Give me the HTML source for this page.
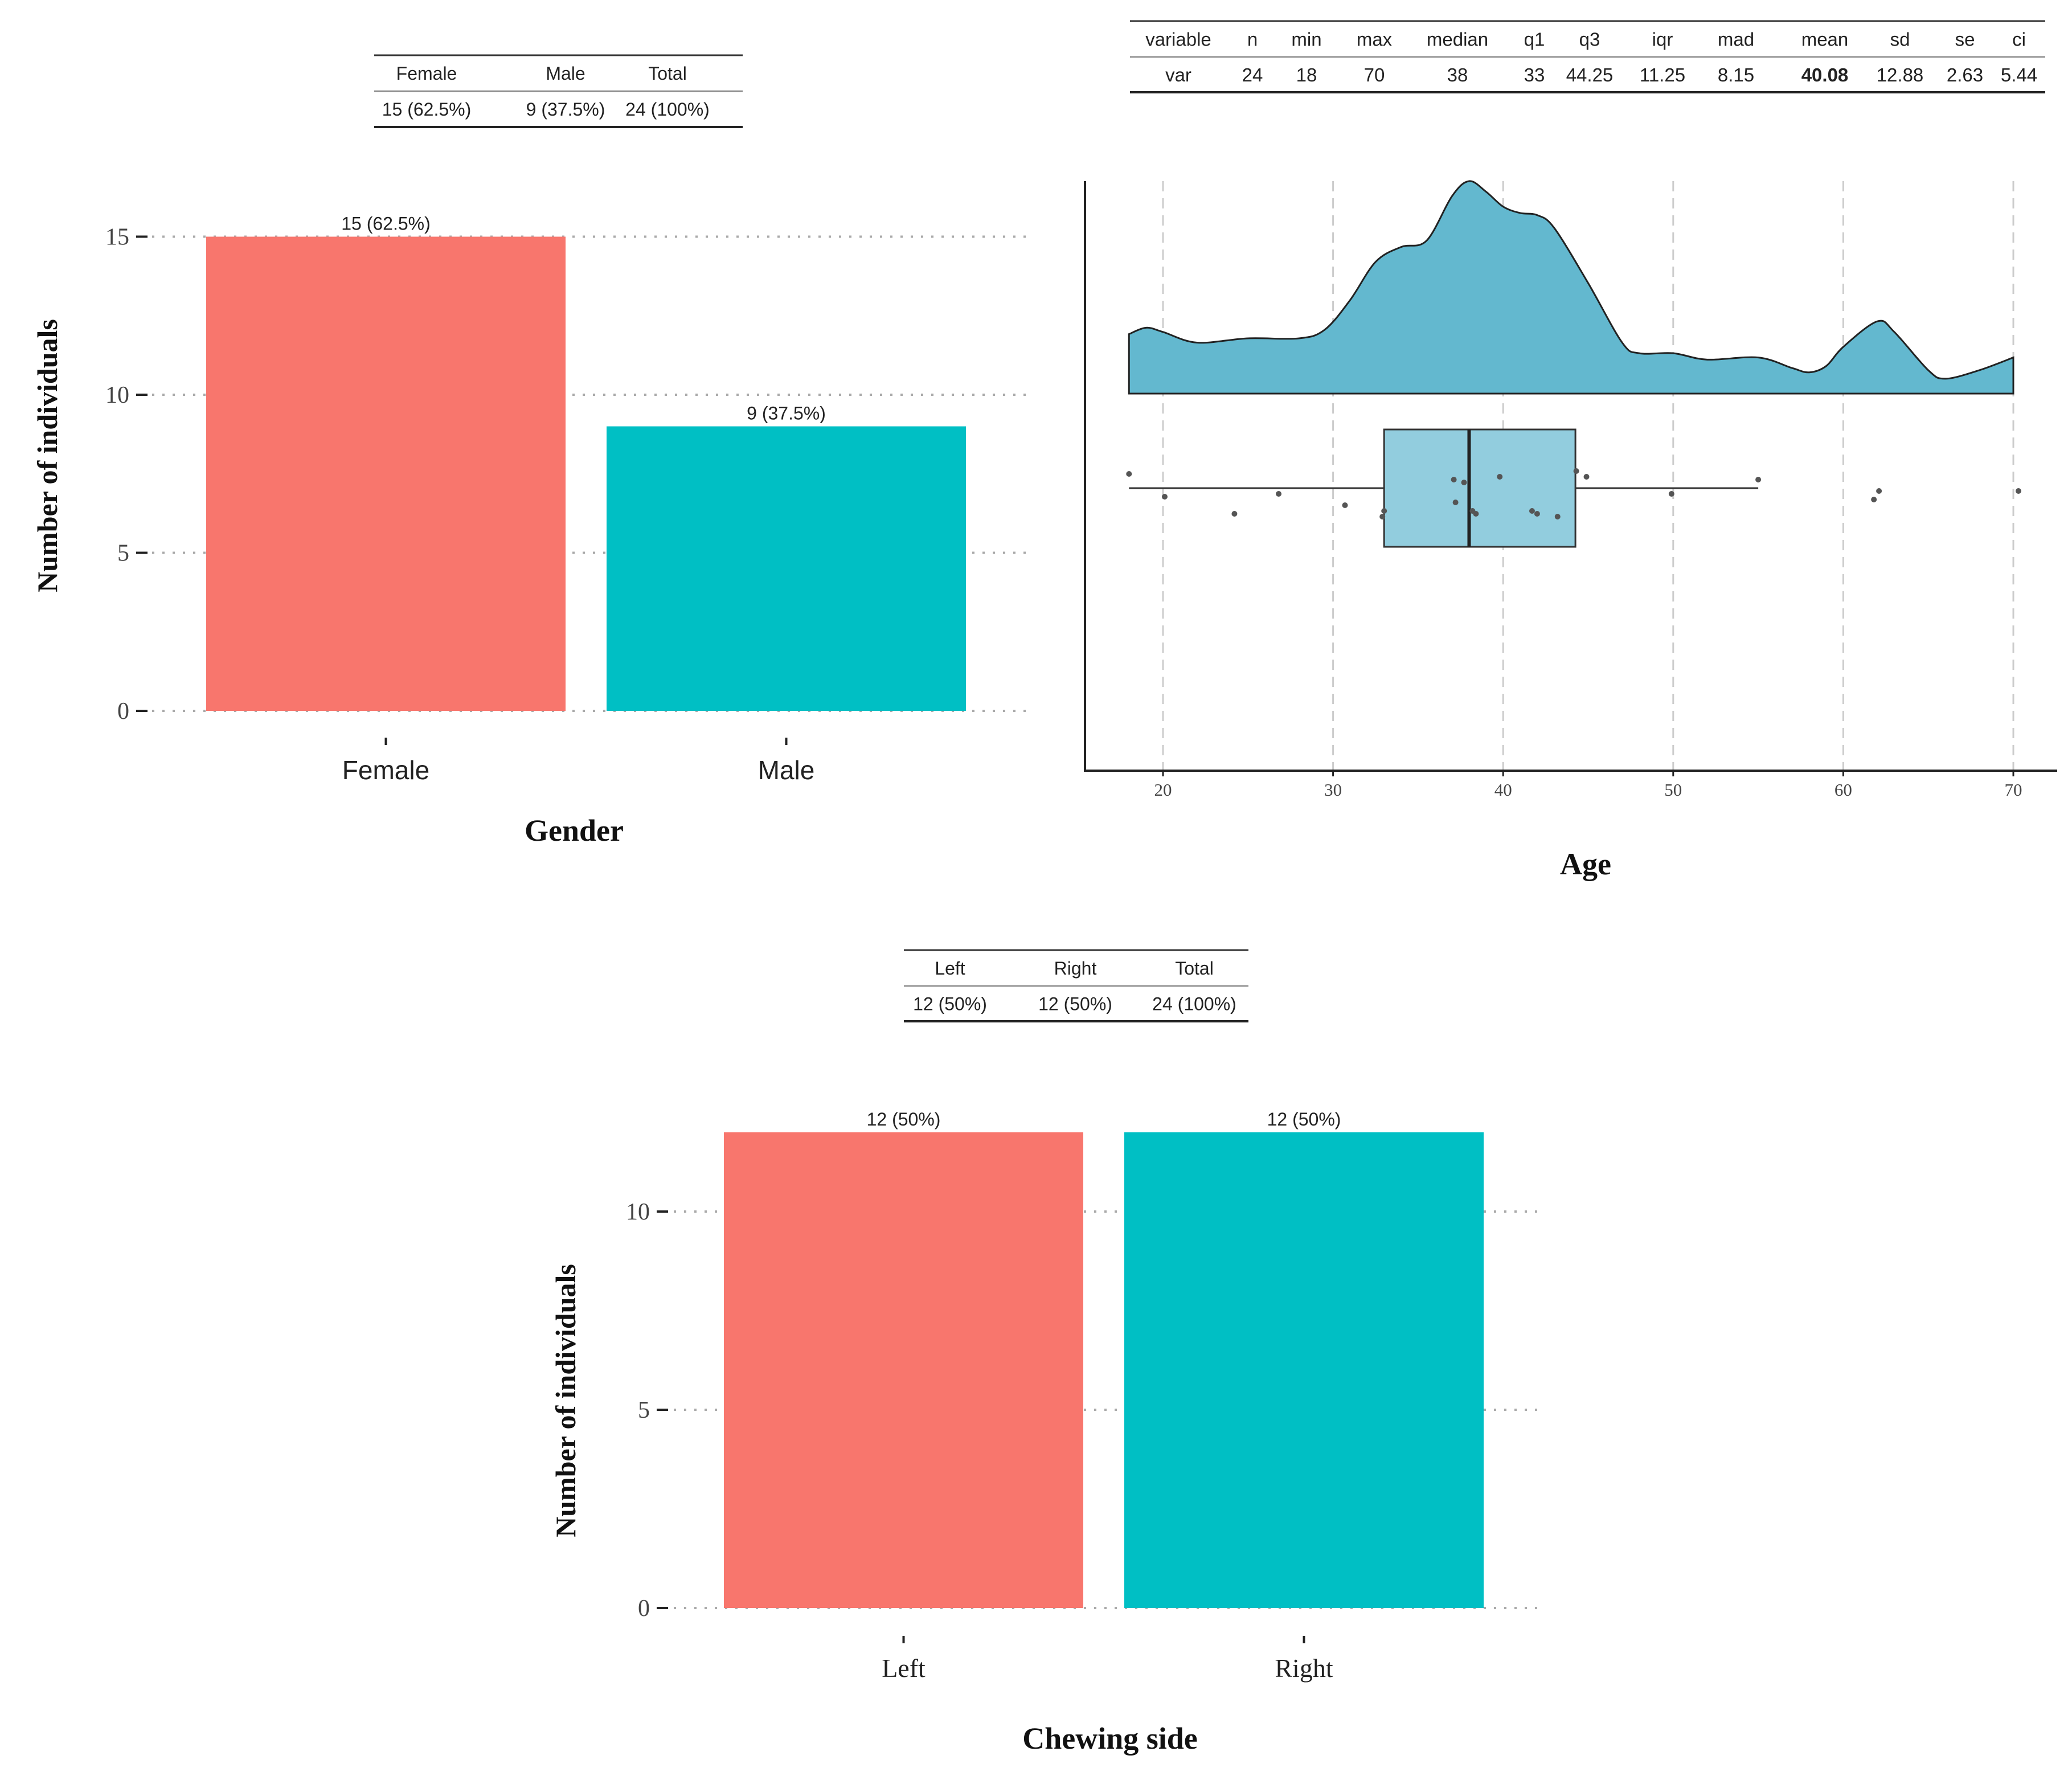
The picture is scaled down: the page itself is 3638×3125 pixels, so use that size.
<!DOCTYPE html>
<html><head><meta charset="utf-8"><style>
html,body{margin:0;padding:0;background:#fff;}
svg{display:block;}
.sans{font-family:"Liberation Sans",sans-serif;}
.serif{font-family:"Liberation Serif",serif;}
</style></head><body>
<svg id="root" width="3638" height="3125" viewBox="0 0 3638 3125" xmlns="http://www.w3.org/2000/svg"></svg>
<script>
// ---- Data ----
const genderCats = ["Female","Male"];
const genderVals = [15, 9];
const genderLabels = ["15 (62.5%)","9 (37.5%)"];
const genderTicks = [0,5,10,15];
const genderTable = [["Female","Male","Total"],["15 (62.5%)","9 (37.5%)","24 (100%)"]];

const sideCats = ["Left","Right"];
const sideVals = [12, 12];
const sideLabels = ["12 (50%)","12 (50%)"];
const sideTicks = [0,5,10];
const sideTable = [["Left","Right","Total"],["12 (50%)","12 (50%)","24 (100%)"]];

const statsHeader = ["variable","n","min","max","median","q1","q3","iqr","mad","mean","sd","se","ci"];
const statsRow = ["var","24","18","70","38","33","44.25","11.25","8.15","40.08","12.88","2.63","5.44"];

const ageTicks = [20,30,40,50,60,70];
const densAges = [18,19,20,22,25,28,29.5,31,32.5,34,35.5,37,38,39,40,41,42,43,45,47,48,50,52,55,57,58,59,60,62,63,65,66,68,70];
const densVals = [0.28,0.31,0.29,0.24,0.26,0.26,0.30,0.44,0.62,0.69,0.72,0.93,1.0,0.95,0.88,0.85,0.84,0.78,0.52,0.24,0.19,0.19,0.16,0.17,0.12,0.10,0.13,0.22,0.34,0.29,0.11,0.07,0.11,0.17];
const boxStats = [18,33,38,44.25,55]; // whiskerLow, q1, median, q3, whiskerHigh
const pointAges = [18,20.1,24.2,26.8,30.7,32.9,33,37.1,37.7,37.2,38.2,38.4,39.8,41.7,42,43.2,44.3,44.9,49.9,55,61.8,62.1,70.3];
const pointJit = [-0.5,0.3,0.9,0.2,0.6,1.0,0.8,-0.3,-0.2,0.5,0.8,0.9,-0.4,0.8,0.9,1.0,-0.6,-0.4,0.2,-0.3,0.4,0.1,0.1];

const NS="http://www.w3.org/2000/svg";
const root=document.getElementById('root');
function el(tag,attrs,parent,text){const e=document.createElementNS(NS,tag);for(const k in attrs)e.setAttribute(k,attrs[k]);if(text!==undefined)e.textContent=text;(parent||root).appendChild(e);return e;}

function table(x0,x1,yTop,yMid,yBot,cols,header,row,fs,name,boldIdx){
  const g=el('g',{});
  
  
  el('line',{x1:x0,x2:x1,y1:yTop,y2:yTop,stroke:'#333','stroke-width':3},g);
  el('line',{x1:x0,x2:x1,y1:yMid,y2:yMid,stroke:'#888','stroke-width':2.5},g);
  el('line',{x1:x0,x2:x1,y1:yBot,y2:yBot,stroke:'#222','stroke-width':4},g);
  header.forEach((h,i)=>{const t=el('text',{x:cols[i],y:(yTop+yMid)/2+fs*0.36,'text-anchor':'middle','font-size':fs,class:'sans',fill:'#222'},g,h);
    
    });
  row.forEach((h,i)=>{const t=el('text',{x:cols[i],y:(yMid+yBot)/2+fs*0.36,'text-anchor':'middle','font-size':fs,class:'sans',fill:'#222','font-weight':i===boldIdx?'bold':'normal'},g,h);
    
    });
}

function barChart(o){
  const g=el('g',{});
  
  
  const y=v=>o.y0-v*o.unit;
  o.ticks.forEach(t=>{
    el('line',{x1:o.gx0,x2:o.gx1,y1:y(t),y2:y(t),stroke:'#aaa','stroke-width':4,'stroke-dasharray':'4 14'},g);
    el('line',{x1:o.tx0,x2:o.tx0+20,y1:y(t),y2:y(t),stroke:'#222','stroke-width':4},g);
    const lb=el('text',{x:o.tx0-12,y:y(t)+14,'text-anchor':'end','font-size':42,class:'serif',fill:'#444'},g,String(t));
    
    
  });
  const colors=['#F8766D','#00BFC4'];
  o.cats.forEach((c,i)=>{
    const xl=o.barX[i], w=o.barW;
    const r=el('rect',{x:xl,y:y(o.vals[i]),width:w,height:o.vals[i]*o.unit,fill:colors[i]},g);
    
    
    const vl=el('text',{x:xl+w/2,y:y(o.vals[i])-12,'text-anchor':'middle','font-size':32,class:'sans',fill:'#222'},g,o.labels[i]);
    
    
    el('line',{x1:xl+w/2,x2:xl+w/2,y1:o.ctY,y2:o.ctY+13,stroke:'#222','stroke-width':4},g);
    const cl=el('text',{x:xl+w/2,y:o.clY,'text-anchor':'middle','font-size':46,class:o.catFont,fill:'#222'},g,c);
    
    
  });
  const xt=el('text',{x:o.xtX,y:o.xtY,'text-anchor':'middle','font-size':54,'font-weight':'bold',class:'serif',fill:'#111'},g,o.xTitle);
  
  
  const yt=el('text',{x:0,y:0,'text-anchor':'middle','font-size':50,'font-weight':'bold',class:'serif',fill:'#111',transform:`translate(${o.ytX},${o.ytY}) rotate(-90)`},g,'Number of individuals');
  
  
}

// Gender
table(657,1304,97,160,223,[749,993,1172],genderTable[0],genderTable[1],32,'gender-table',-1);
barChart({name:'gender-bar-chart',cats:genderCats,vals:genderVals,labels:genderLabels,ticks:genderTicks,
  y0:1248,unit:55.5,gx0:267,gx1:1805,tx0:239,barX:[362,1065],barW:631,ctY:1295,clY:1368,catFont:'sans',
  xTitle:'Gender',xtX:1008,xtY:1476,ytX:100,ytY:800});

// Chewing side
table(1587,2192,1668,1731,1793,[1668,1888,2097],sideTable[0],sideTable[1],32,'chewing-side-table',-1);
barChart({name:'chewing-side-bar-chart',cats:sideCats,vals:sideVals,labels:sideLabels,ticks:sideTicks,
  y0:2823,unit:69.6,gx0:1183,gx1:2710,tx0:1153,barX:[1271,1974],barW:631,ctY:2872,clY:2944,catFont:'serif',
  xTitle:'Chewing side',xtX:1949,xtY:3070,ytX:1010,ytY:2459});

// Stats table
const statCols=[2069,2199,2294,2413,2559,2694,2791,2919,3048,3204,3336,3450,3545];
table(1984,3591,37,100,162,statCols,statsHeader,statsRow,33,'age-stats-table',9);

// Age raincloud
(function(){
  const g=el('g',{});
  
  
  const x=a=>2042+(a-20)*29.86;
  const base=691, H=373;
  ageTicks.forEach(t=>{
    el('line',{x1:x(t),x2:x(t),y1:318,y2:1353,stroke:'#ccc','stroke-width':3,'stroke-dasharray':'18 12'},g);
    el('line',{x1:x(t),x2:x(t),y1:1353,y2:1363,stroke:'#222','stroke-width':3},g);
    const lb=el('text',{x:x(t),y:1397,'text-anchor':'middle','font-size':31,class:'serif',fill:'#444'},g,String(t));
    
    
  });
  const pts=densAges.map((a,i)=>[x(a),base-densVals[i]*H]);
  let d=`M${pts[0][0]},${base} L${pts[0][0]},${pts[0][1]}`;
  for(let i=0;i<pts.length-1;i++){
    const p0=pts[Math.max(0,i-1)],p1=pts[i],p2=pts[i+1],p3=pts[Math.min(pts.length-1,i+2)];
    const c1=[p1[0]+(p2[0]-p0[0])/6,p1[1]+(p2[1]-p0[1])/6],c2=[p2[0]-(p3[0]-p1[0])/6,p2[1]-(p3[1]-p1[1])/6];
    d+=` C${c1[0]},${c1[1]} ${c2[0]},${c2[1]} ${p2[0]},${p2[1]}`;
  }
  d+=` L${pts[pts.length-1][0]},${base} Z`;
  const dp=el('path',{d:d,fill:'#63B8CF',stroke:'#222','stroke-width':3},g);
  
  
  const by0=754,by1=960,bm=(by0+by1)/2;
  el('line',{x1:x(boxStats[0]),x2:x(boxStats[1]),y1:bm,y2:bm,stroke:'#333','stroke-width':3},g);
  el('line',{x1:x(boxStats[3]),x2:x(boxStats[4]),y1:bm,y2:bm,stroke:'#333','stroke-width':3},g);
  const bx=el('rect',{x:x(boxStats[1]),y:by0,width:x(boxStats[3])-x(boxStats[1]),height:by1-by0,fill:'#92CDDE',stroke:'#333','stroke-width':3},g);
  
  
  el('line',{x1:x(boxStats[2]),x2:x(boxStats[2]),y1:by0,y2:by1,stroke:'#222','stroke-width':6},g);
  pointAges.forEach((a,i)=>{
    const c=el('circle',{cx:x(a),cy:bm+pointJit[i]*50,r:5,fill:'#555'},g);
    
    
  });
  el('line',{x1:1905,x2:1905,y1:318,y2:1355,stroke:'#222','stroke-width':4},g);
  el('line',{x1:1903,x2:3612,y1:1353,y2:1353,stroke:'#222','stroke-width':4},g);
  const t=el('text',{x:2784,y:1535,'text-anchor':'middle','font-size':54,'font-weight':'bold',class:'serif',fill:'#111'},g,'Age');
  
  
})();
</script>
</body></html>
